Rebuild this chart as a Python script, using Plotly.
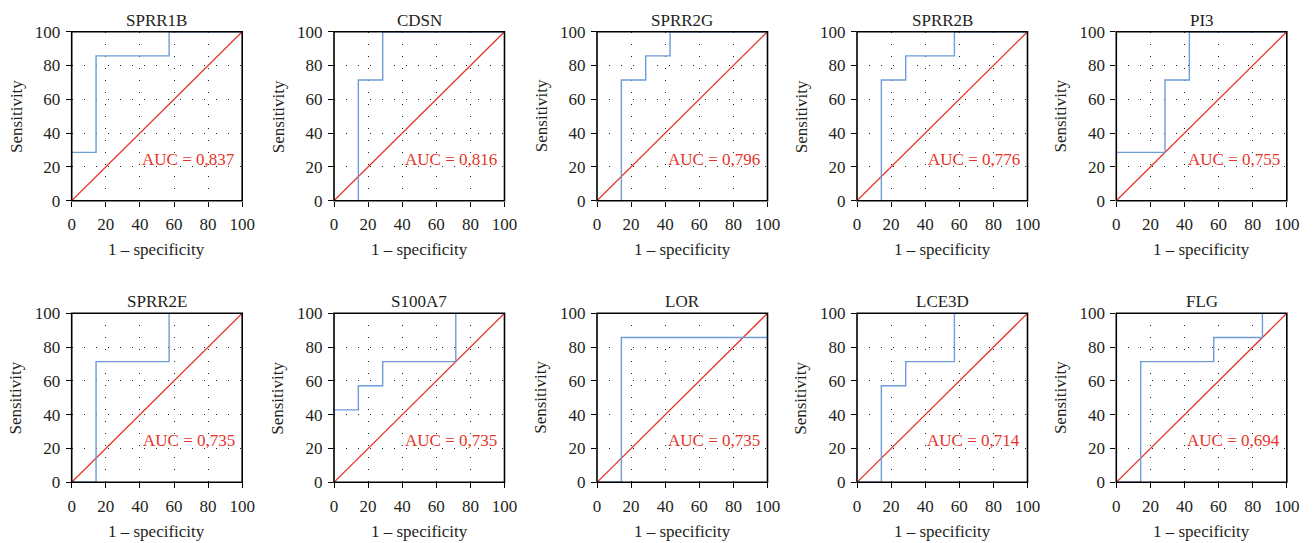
import plotly.graph_objects as go

genes = ["SPRR1B", "CDSN", "SPRR2G", "SPRR2B", "PI3",
         "SPRR2E", "S100A7", "LOR", "LCE3D", "FLG"]
auc_labels = ["0,837", "0,816", "0,796", "0,776", "0,755",
              "0,735", "0,735", "0,735", "0,714", "0,694"]

# ROC step curves (1 - specificity, sensitivity), in %
x_SPRR1B = [0, 14.29, 14.29, 57.14, 57.14, 100]
y_SPRR1B = [28.57, 28.57, 85.71, 85.71, 100, 100]
x_CDSN = [0, 14.29, 14.29, 28.57, 28.57, 100]
y_CDSN = [0, 0, 71.43, 71.43, 100, 100]
x_SPRR2G = [0, 14.29, 14.29, 28.57, 28.57, 42.86, 42.86, 100]
y_SPRR2G = [0, 0, 71.43, 71.43, 85.71, 85.71, 100, 100]
x_SPRR2B = [0, 14.29, 14.29, 28.57, 28.57, 57.14, 57.14, 100]
y_SPRR2B = [0, 0, 71.43, 71.43, 85.71, 85.71, 100, 100]
x_PI3 = [0, 28.57, 28.57, 42.86, 42.86, 100]
y_PI3 = [28.57, 28.57, 71.43, 71.43, 100, 100]
x_SPRR2E = [0, 14.29, 14.29, 57.14, 57.14, 100]
y_SPRR2E = [0, 0, 71.43, 71.43, 100, 100]
x_S100A7 = [0, 14.29, 14.29, 28.57, 28.57, 71.43, 71.43, 100]
y_S100A7 = [42.86, 42.86, 57.14, 57.14, 71.43, 71.43, 100, 100]
x_LOR = [0, 14.29, 14.29, 100]
y_LOR = [0, 0, 85.71, 85.71]
x_LCE3D = [0, 14.29, 14.29, 28.57, 28.57, 57.14, 57.14, 100]
y_LCE3D = [0, 0, 57.14, 57.14, 71.43, 71.43, 100, 100]
x_FLG = [0, 14.29, 14.29, 57.14, 57.14, 85.71, 85.71, 100]
y_FLG = [0, 0, 71.43, 71.43, 85.71, 85.71, 100, 100]

curves_x = [x_SPRR1B, x_CDSN, x_SPRR2G, x_SPRR2B, x_PI3,
            x_SPRR2E, x_S100A7, x_LOR, x_LCE3D, x_FLG]
curves_y = [y_SPRR1B, y_CDSN, y_SPRR2G, y_SPRR2B, y_PI3,
            y_SPRR2E, y_S100A7, y_LOR, y_LCE3D, y_FLG]

diag = [0, 100]
tick_vals = [0, 20, 40, 60, 80, 100]

W, H = 1313, 543
col_left_px = [71.7, 334.0, 597.0, 857.0, 1116.3]
plot_w_px = 170.5
row_top_px = [31.7, 313.3]
plot_h_px = 169.0

FONT = "'Liberation Serif', 'Times New Roman', serif"
TXT = "#231f20"
BLUE = "#6d9cd6"
RED = "#e5352a"

fig = go.Figure()
annotations = []
shapes = []

for i, g in enumerate(genes):
    r, c = divmod(i, 5)
    n = i + 1
    xa = "x" if n == 1 else f"x{n}"
    ya = "y" if n == 1 else f"y{n}"
    xd = [col_left_px[c] / W, (col_left_px[c] + plot_w_px) / W]
    yd = [(H - row_top_px[r] - plot_h_px) / H, (H - row_top_px[r]) / H]

    fig.add_trace(go.Scatter(x=diag, y=diag, mode="lines",
                             line=dict(color=RED, width=1.3),
                             xaxis=xa, yaxis=ya, showlegend=False,
                             hoverinfo="skip"))
    fig.add_trace(go.Scatter(x=curves_x[i], y=curves_y[i], mode="lines",
                             line=dict(color=BLUE, width=1.4),
                             xaxis=xa, yaxis=ya, showlegend=False))

    axis_common = dict(range=[0, 100], tickvals=tick_vals, ticks="outside",
                       ticklen=5, tickwidth=1.2, tickcolor="black",
                       showline=False, showgrid=True, gridcolor="#222222",
                       gridwidth=1, griddash="1px,11px", zeroline=False,
                       automargin=False, fixedrange=True,
                       tickfont=dict(family=FONT, size=17, color=TXT))
    xk = "xaxis" if n == 1 else f"xaxis{n}"
    yk = "yaxis" if n == 1 else f"yaxis{n}"
    fig.update_layout(**{
        xk: dict(axis_common, domain=xd, anchor=ya, ticklabelstandoff=3),
        yk: dict(axis_common, domain=yd, anchor=xa, ticklabelstandoff=2),
    })

    # frame drawn above the traces
    shapes.append(dict(type="rect", xref=f"{xa} domain", yref=f"{ya} domain",
                       x0=0, x1=1, y0=0, y1=1, layer="above",
                       line=dict(color="black", width=1.6)))

    xc = (xd[0] + xd[1]) / 2
    yc = (yd[0] + yd[1]) / 2
    # panel title
    annotations.append(dict(text=g, xref="paper", yref="paper", x=xc, y=yd[1],
                            xanchor="center", yanchor="bottom", yshift=0,
                            showarrow=False,
                            font=dict(family=FONT, size=17, color=TXT)))
    # x-axis title
    annotations.append(dict(text="1 – specificity", xref="paper", yref="paper",
                            x=xc, y=yd[0], xanchor="center", yanchor="middle",
                            yshift=-49, showarrow=False,
                            font=dict(family=FONT, size=17, color=TXT)))
    # y-axis title
    annotations.append(dict(text="Sensitivity", xref="paper", yref="paper",
                            x=xd[0], y=yc, xanchor="center", yanchor="middle",
                            xshift=-56, textangle=-90, showarrow=False,
                            font=dict(family=FONT, size=17, color=TXT)))
    # AUC label
    annotations.append(dict(text=f"AUC = {auc_labels[i]}", xref=xa, yref=ya,
                            x=97, y=24.5, xanchor="right", yanchor="middle",
                            showarrow=False,
                            font=dict(family=FONT, size=17, color=RED)))

fig.update_layout(width=W, height=H, margin=dict(l=0, r=0, t=0, b=0),
                  paper_bgcolor="white", plot_bgcolor="white",
                  template="none", annotations=annotations, shapes=shapes)

fig.write_html("out.html")
